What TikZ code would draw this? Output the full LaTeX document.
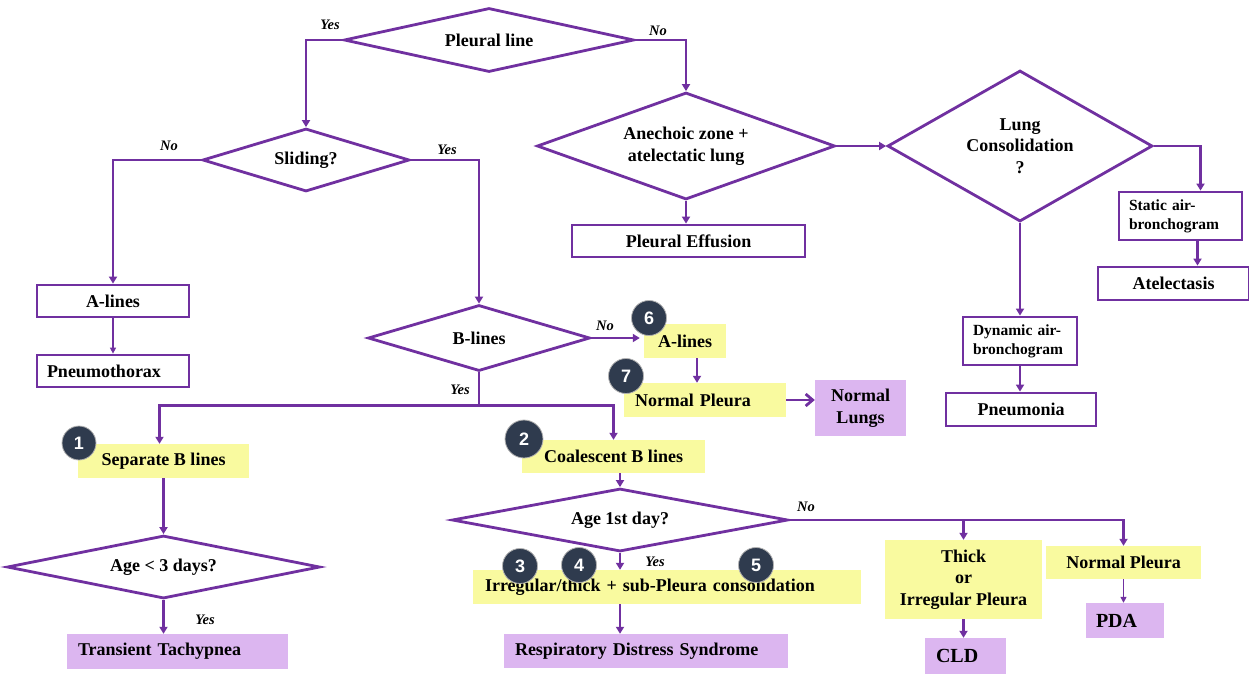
\documentclass[tikz,border=0pt]{standalone}
\usepackage{fontspec}
\setmainfont{Liberation Serif}
\newfontfamily\badgefont{Liberation Sans}
\usetikzlibrary{shapes.geometric,arrows.meta,calc}
\definecolor{pur}{HTML}{7030A0}
\definecolor{ylw}{HTML}{F9FA9F}
\definecolor{lav}{HTML}{DCB6F0}
\definecolor{badgec}{HTML}{2F3B4E}
\begin{document}
\begin{tikzpicture}[x=1pt,y=-1pt,
  every node/.style={font=\fontsize{18}{21.5}\selectfont\bfseries, inner sep=0pt},
  dia/.style={shape=diamond, draw=pur, line width=2.8pt, fill=white, align=center},
  wbox/.style={draw=pur, line width=2.8pt, fill=white, align=center},
  ybox/.style={fill=ylw, align=center},
  pbox/.style={fill=lav, align=center},
  lab/.style={font=\fontsize{14.5}{17}\selectfont\bfseries\itshape},
  bdg/.style={circle, fill=badgec, draw=gray!60, line width=0.8pt, minimum size=#1, text=white, font=\badgefont\fontsize{18}{20}\selectfont\bfseries},
  ln/.style={draw=pur, line width=2.8pt},
  arr/.style={draw=pur, line width=2.8pt, -{Triangle[width=8pt,length=7pt]}},
  tarr/.style={draw=pur, line width=1.4pt, -{Triangle[width=6pt,length=6pt]}},
  barb/.style={draw=pur, line width=2.8pt, -{Straight Barb[width=12pt,length=7pt,line width=2.8pt]}}
]
\useasboundingbox (0,0) rectangle (1249,673);

% diamonds
\node[dia, minimum width=290pt, minimum height=64pt, aspect=4.53] (pl) at (489,40) {Pleural line};
\node[dia, minimum width=207pt, minimum height=63pt, aspect=3.29] (sl) at (306,160) {Sliding?};
\node[dia, minimum width=222pt, minimum height=66pt, aspect=3.36] (bl) at (479,338) {B-lines};
\node[dia, minimum width=298pt, minimum height=107pt, aspect=2.79] (an) at (686,146) {Anechoic zone +\\atelectatic lung};
\node[dia, minimum width=265pt, minimum height=151pt, aspect=1.755] (lc) at (1020,146) {Lung\\Consolidation\\?};
\node[dia, minimum width=313pt, minimum height=63pt, aspect=4.97] (a3) at (163.5,567) {Age < 3 days?};
\node[dia, minimum width=336pt, minimum height=63pt, aspect=5.33] (a1) at (620,520) {Age 1st day?};

% white boxes
\node[wbox, minimum width=152pt, minimum height=32pt] (al) at (113,301) {A-lines};
\node[wbox, minimum width=152pt, minimum height=32pt, text width=132pt, align=left] (pt) at (113,371) {Pneumothorax};
\node[wbox, minimum width=233pt, minimum height=32pt] (pe) at (688.5,241) {Pleural Effusion};
\node[wbox, minimum width=123pt, minimum height=48pt, text width=103pt, align=left, font=\fontsize{15.5}{19}\selectfont\bfseries] (sa) at (1180.5,216) {Static air-\\bronchogram};
\node[wbox, minimum width=151pt, minimum height=33pt] (at) at (1173.5,283.5) {Atelectasis};
\node[wbox, minimum width=114pt, minimum height=48pt, text width=94pt, align=left, font=\fontsize{15.5}{19}\selectfont\bfseries] (da) at (1020,341) {Dynamic air-\\bronchogram};
\node[wbox, minimum width=150pt, minimum height=33pt] (pn) at (1021,409.5) {Pneumonia};

% yellow boxes
\node[ybox, minimum width=82pt, minimum height=34pt] (a6) at (685,341) {A-lines};
\node[ybox, minimum width=162pt, minimum height=34pt, text width=140pt, align=left] (np7) at (705,400) {Normal Pleura};
\node[ybox, minimum width=183pt, minimum height=33pt] (cb) at (613.5,456.5) {Coalescent B lines};
\node[ybox, minimum width=171pt, minimum height=34pt] (sb) at (163.5,461) {Separate B lines};
\node[ybox, minimum width=388pt, minimum height=34pt, text width=364pt, align=left] (ir) at (667,587) {Irregular/thick + sub-Pleura consolidation};
\node[ybox, minimum width=157pt, minimum height=79pt] (th) at (963.5,579.5) {Thick\\or\\Irregular Pleura};
\node[ybox, minimum width=155pt, minimum height=33pt] (np2) at (1123.5,562.5) {Normal Pleura};

% lavender boxes
\node[pbox, minimum width=91pt, minimum height=56pt] (nl) at (860.5,408) {Normal\\Lungs};
\node[pbox, minimum width=221pt, minimum height=35pt, text width=199pt, align=left] (tt) at (177.5,651.5) {Transient Tachypnea};
\node[pbox, minimum width=284pt, minimum height=34pt, text width=262pt, align=left] (rds) at (646,651) {Respiratory Distress Syndrome};
\node[pbox, minimum width=81pt, minimum height=36pt, text width=59pt, align=left, font=\fontsize{20}{23}\selectfont\bfseries] (cld) at (965.5,656) {CLD};
\node[pbox, minimum width=78pt, minimum height=35pt, text width=58pt, align=left, font=\fontsize{20}{23}\selectfont\bfseries] (pda) at (1125,620.5) {PDA};

% badges
\node[bdg=34pt] (b1) at (79,443) {1};
\node[bdg=38pt] (b2) at (524,439) {2};
\node[bdg=35pt] (b3) at (520,566) {3};
\node[bdg=35pt] (b4) at (579,565) {4};
\node[bdg=35pt] (b5) at (756,565) {5};
\node[bdg=35pt] (b6) at (649,318) {6};
\node[bdg=35pt] (b7) at (626,376) {7};

% connectors
\draw[arr] (pl.west) -| (sl.north);
\node[lab] (y1) at (330,25) {Yes};
\draw[arr] (pl.east) -| (an.north);
\node[lab] (n1) at (658,31) {No};
\draw[arr] (sl.west) -| (al.north);
\node[lab] (n2) at (169,146) {No};
\draw[arr] (sl.east) -| (bl.north);
\node[lab] (y2) at (447,150) {Yes};
\draw[tarr] (al.south) -- (pt.north);
\draw[arr] (bl.east) -- ([xshift=-4pt]bl.east -| a6.west);
\node[lab] (n3) at (605,326) {No};
\path (bl.south) ++(0,33) coordinate (j1);
\draw[ln] (bl.south) -- (j1);
\draw[arr] (j1) -| ([xshift=-4pt]sb.north);
\draw[arr] (j1) -| (cb.north);
\node[lab] (y3) at (460,390) {Yes};
\draw[arr] ([xshift=12pt]a6.south) -- ([xshift=12pt]a6.south |- np7.north);
\draw[barb] (np7.east) -- (np7.east -| nl.west);
\draw[arr] (sb.south) -- (a3.north);
\draw[arr] (a3.south) -- (a3.south |- tt.north);
\node[lab] (y4) at (205,620) {Yes};
\draw[arr] (a1.north |- cb.south) -- (a1.north);
\draw[arr] (a1.south) -- (a1.south |- ir.north);
\node[lab] (y5) at (655,562) {Yes};
\draw[arr] (a1.south |- ir.south) -- (a1.south |- rds.north);
\draw[arr] (a1.east) -| (np2.north);
\draw[arr] (a1.east -| th.north) -- (th.north);
\node[lab] (n4) at (806,507) {No};
\draw[arr] (th.south) -- (th.south |- cld.north);
\draw[tarr] (np2.south) -- (np2.south |- pda.north);
\draw[arr] (an.south) -- (an.south |- pe.north);
\draw[arr] (an.east) -- (lc.west);
\draw[arr] (lc.east) -| ([xshift=20pt]sa.north);
\draw[arr] ([xshift=17pt]sa.south) -- ([xshift=17pt]sa.south |- at.north);
\draw[arr] (lc.south) -- (da.north);
\draw[arr] (da.south) -- (da.south |- pn.north);
\end{tikzpicture}
\end{document}
